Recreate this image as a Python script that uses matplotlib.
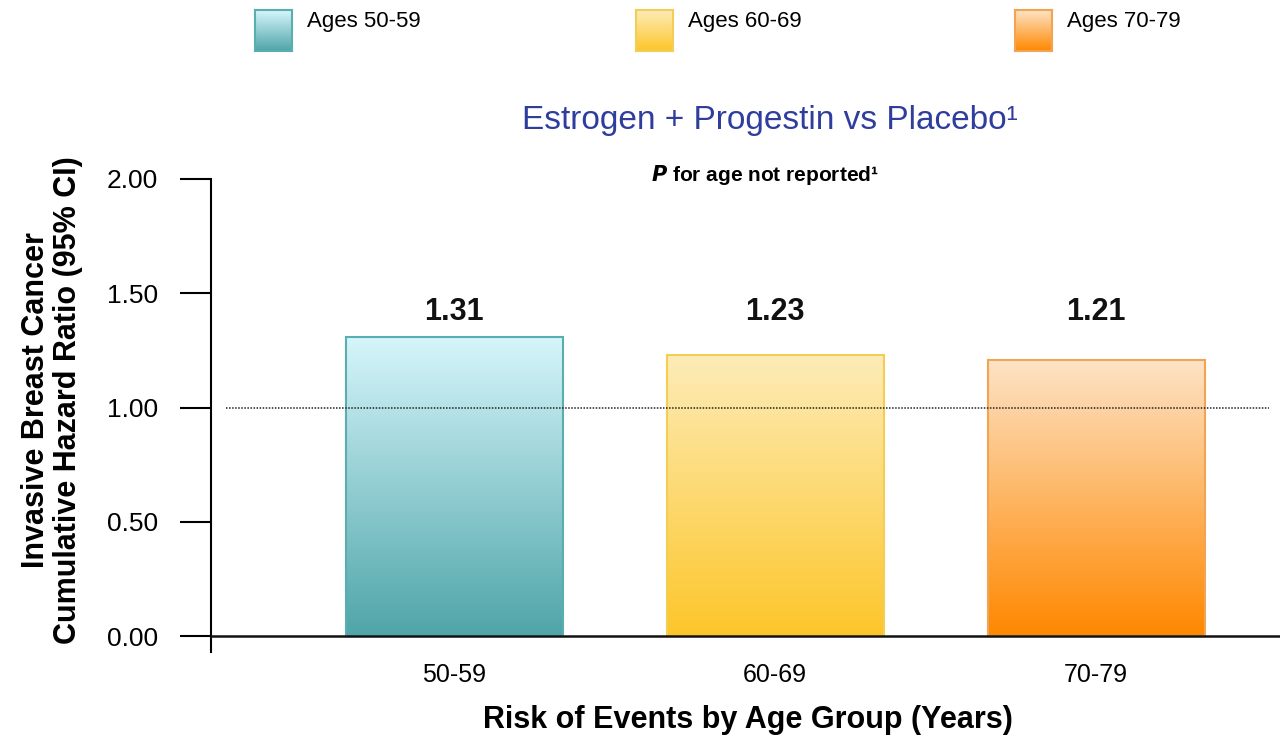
import numpy as np
import matplotlib.pyplot as plt
from matplotlib.colors import LinearSegmentedColormap
from matplotlib.patches import Rectangle

plt.rcParams['font.family'] = ['Liberation Sans', 'DejaVu Sans']

# data
groups = ['50-59', '60-69', '70-79']
legend_labels = ['Ages 50-59', 'Ages 60-69', 'Ages 70-79']
hazard_ratio = [1.31, 1.23, 1.21]
value_labels = ['1.31', '1.23', '1.21']
yticks = [0.0, 0.5, 1.0, 1.5, 2.0]

# gradient colours (top, bottom) and outline for each bar
grad_top = ['#d6f6fb', '#fdecb8', '#fde3c6']
grad_bottom = ['#4fa5a9', '#fcc62a', '#ff8800']
edges = ['#5aaeb1', '#f3cd55', '#f2a455']

fig = plt.figure(figsize=(12.8, 7.4), dpi=100)
ax = fig.add_axes([211 / 1280, 1 - 652 / 740, 1 - 211 / 1280, (652 - 179) / 740])

width = 0.676
x = np.arange(len(groups))
grad = np.linspace(1, 0, 256).reshape(-1, 1)
for i, v in enumerate(hazard_ratio):
    cmap = LinearSegmentedColormap.from_list('g%d' % i, [grad_bottom[i], grad_top[i]])
    x0 = x[i] - width / 2
    ax.imshow(grad, cmap=cmap, extent=[x0, x0 + width, 0, v], aspect='auto',
              vmin=0, vmax=1, zorder=2)
    ax.add_patch(Rectangle((x0, 0), width, v, fill=False, edgecolor=edges[i],
                           linewidth=1.5, zorder=3))
    # value labels sit on one common row above the bars
    ax.text(x[i], 1.42, value_labels[i], ha='center', va='center',
            fontsize=22, fontweight='bold', color='#111111')

# reference line at HR = 1
ax.plot([-0.71, 2.54], [1, 1], color='#222222', linestyle=(0, (1, 1)),
        linewidth=1.1, zorder=4)
ax.axhline(0, color='#111111', linewidth=1.8, zorder=5)

ax.set_xlim(-0.757, 2.573)
ax.set_ylim(-0.07, 2.0)
for s in ['top', 'right', 'bottom']:
    ax.spines[s].set_visible(False)
ax.spines['left'].set_linewidth(1.5)
ax.set_yticks(yticks)
ax.set_yticklabels(['%.2f' % t for t in yticks], fontsize=19)
ax.tick_params(axis='y', length=22, width=1.5, direction='out', pad=16)
ax.set_xticks(x)
ax.set_xticklabels(groups, fontsize=18)
ax.tick_params(axis='x', length=0, pad=8)

fig.text(748 / 1280, 1 - 720 / 740, 'Risk of Events by Age Group (Years)',
         ha='center', va='center', fontsize=22, fontweight='bold')
fig.text(52 / 1280, 1 - 400 / 740, 'Invasive Breast Cancer\nCumulative Hazard Ratio (95% CI)',
         rotation=90, ha='center', va='center', fontsize=22, fontweight='bold',
         linespacing=1.1)

fig.text(770 / 1280, 1 - 120 / 740, 'Estrogen + Progestin vs Placebo¹',
         ha='center', va='center', fontsize=24, color='#2f3d9c')
fig.text(765 / 1280, 1 - 175 / 740, r'$\bfit{P}$ for age not reported¹',
         ha='center', va='center', fontsize=15, fontweight='bold')

# legend swatches along the top
swatch_x = [255, 636, 1015]
for i, lab in enumerate(legend_labels):
    cmap = LinearSegmentedColormap.from_list('l%d' % i, [grad_bottom[i], grad_top[i]])
    sax = fig.add_axes([swatch_x[i] / 1280, 1 - 51 / 740, 37 / 1280, 41 / 740])
    sax.imshow(grad, cmap=cmap, aspect='auto', vmin=0, vmax=1)
    sax.set_xticks([])
    sax.set_yticks([])
    for sp in sax.spines.values():
        sp.set_edgecolor(edges[i])
        sp.set_linewidth(1.5)
    fig.text((swatch_x[i] + 52) / 1280, 1 - 22 / 740, lab, ha='left', va='center',
             fontsize=16)

fig.savefig('out.png', dpi=100)
